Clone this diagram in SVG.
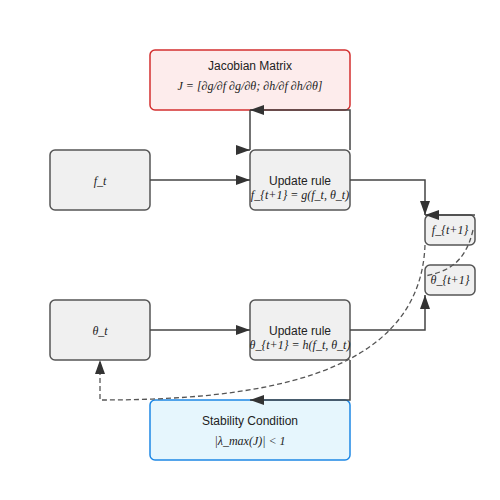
<svg xmlns="http://www.w3.org/2000/svg" width="500" height="500" viewBox="0 0 500 500">
<defs>
<marker id="arrL" viewBox="0 0 14 10" refX="14" refY="5" markerWidth="14" markerHeight="10" markerUnits="userSpaceOnUse" orient="auto">
<path d="M0,0 L14,5 L0,10 z" fill="#333"/>
</marker>
</defs>
<style>
.box{fill:#f0f0f0;stroke:#555;stroke-width:1.5}
.red{fill:#fdecec;stroke:#d32f2f;stroke-width:1.5}
.blue{fill:#e6f6fd;stroke:#1e88e5;stroke-width:1.5}
.sans{font-family:"Liberation Sans",Arial,sans-serif;font-size:12px;fill:#222;text-anchor:middle}
.math{font-family:"Liberation Serif","Times New Roman",serif;font-style:italic;font-size:12px;fill:#222;text-anchor:middle}
.edge{fill:none;stroke:#444;stroke-width:1.5}
.dash{fill:none;stroke:#555;stroke-width:1.3;stroke-dasharray:5,3}
</style>
<g id="jacobian">
<rect class="red" x="150" y="50" width="200" height="60" rx="5"/>
<text class="sans" x="250" y="70">Jacobian Matrix</text>
<text class="math" x="250" y="90">J = [∂g/∂f ∂g/∂θ; ∂h/∂f ∂h/∂θ]</text>
</g>
<g id="f_t">
<rect class="box" x="50" y="150" width="100" height="60" rx="5"/>
<text class="math" x="100" y="185">f_t</text>
</g>
<g id="update_f">
<rect class="box" x="250" y="150" width="100" height="60" rx="5"/>
<text class="sans" x="300" y="185">Update rule</text>
<text class="math" x="300" y="199">f_{t+1} = g(f_t, θ_t)</text>
</g>
<g id="f_next">
<rect class="box" x="425" y="215" width="50" height="30" rx="5"/>
<text class="math" x="450" y="234">f_{t+1}</text>
</g>
<g id="theta_next">
<rect class="box" x="425" y="265" width="50" height="30" rx="5"/>
<text class="math" x="450" y="284">θ_{t+1}</text>
</g>
<g id="theta_t">
<rect class="box" x="50" y="300" width="100" height="60" rx="5"/>
<text class="math" x="100" y="335">θ_t</text>
</g>
<g id="update_theta">
<rect class="box" x="250" y="300" width="100" height="60" rx="5"/>
<text class="sans" x="300" y="335">Update rule</text>
<text class="math" x="300" y="349">θ_{t+1} = h(f_t, θ_t)</text>
</g>
<g id="stability">
<rect class="blue" x="150" y="400" width="200" height="60" rx="5"/>
<text class="sans" x="250" y="425">Stability Condition</text>
<text class="math" x="250" y="445">|λ_max(J)| &lt; 1</text>
</g>
<g id="connectors">
<path class="edge" d="M150,180 L250,180" marker-end="url(#arrL)"/>
<path class="edge" d="M150,330 L250,330" marker-end="url(#arrL)"/>
<path class="edge" d="M350,180 L425,180 L425,215" marker-end="url(#arrL)"/>
<path class="edge" d="M350,330 L425,330 L425,295" marker-end="url(#arrL)"/>
<path class="edge" d="M475,215 L425,215" marker-end="url(#arrL)"/>
<path class="edge" d="M250,110 L250,150"/>
<path class="edge" d="M236,150 L250,150" marker-end="url(#arrL)"/>
<path class="edge" d="M350,150 L350,110 L250,110" marker-end="url(#arrL)"/>
<path class="edge" d="M350,360 L350,400 L250,400" marker-end="url(#arrL)"/>
<path class="dash" d="M425,245 C420,380 250,400 100,400 L100,360" marker-end="url(#arrL)"/>
<path class="dash" d="M473,230 C465,265 445,272 425,276"/>
</g>
</svg>
